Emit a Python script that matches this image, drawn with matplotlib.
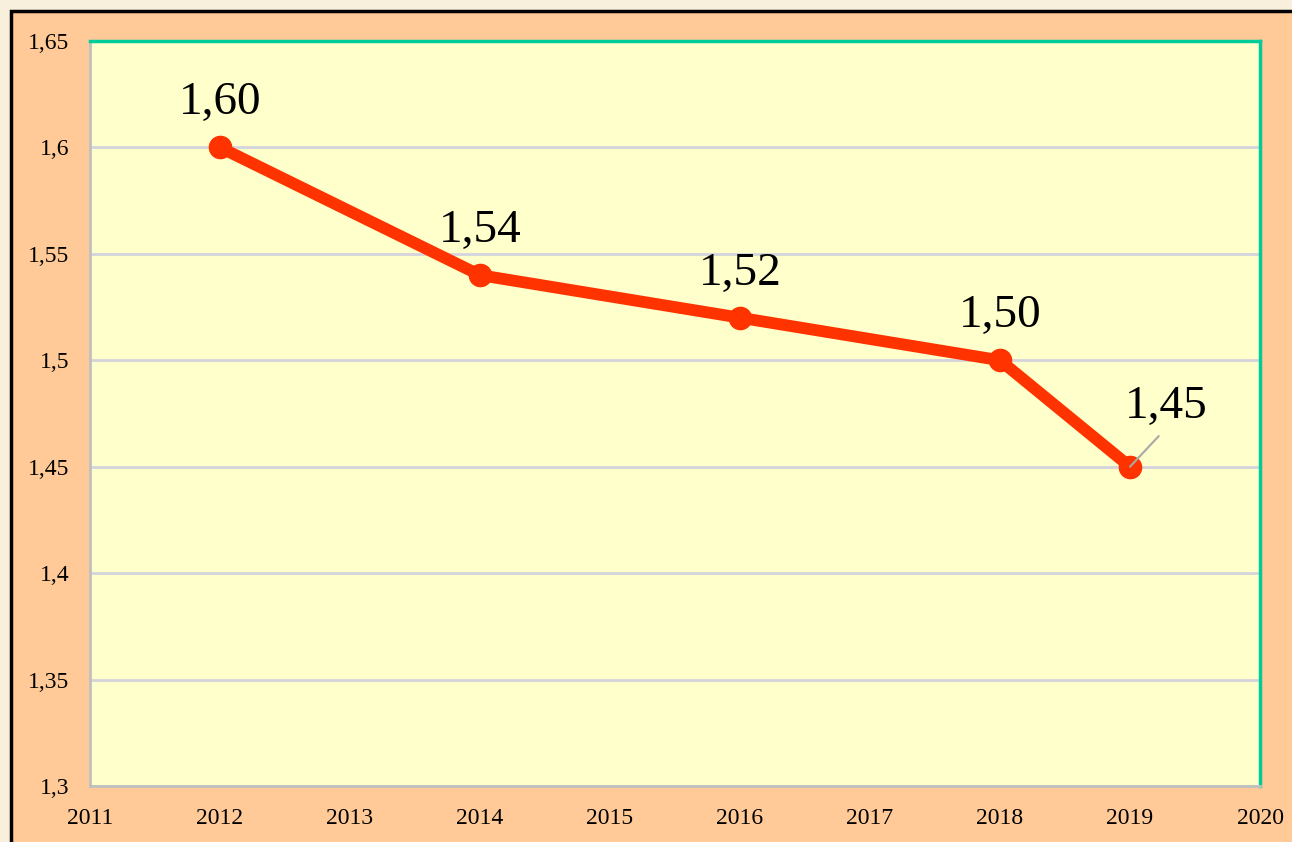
import matplotlib.pyplot as plt
from matplotlib.patches import Rectangle

#######################################################################
# Data
#######################################################################
years = [2012, 2014, 2016, 2018, 2019]
values = [1.60, 1.54, 1.52, 1.50, 1.45]
labels = ['1,60', '1,54', '1,52', '1,50', '1,45']
x_ticks = list(range(2011, 2021))
y_ticks = [1.3, 1.35, 1.4, 1.45, 1.5, 1.55, 1.6, 1.65]
y_tick_labels = ['1,3', '1,35', '1,4', '1,45', '1,5', '1,55', '1,6', '1,65']

# label offsets in points (dx, dy)
offsets = [(0, 32), (0, 32), (0, 32), (0, 32), (26, 43)]

#######################################################################
# Figure
#######################################################################
plt.rcParams['font.family'] = ['Liberation Serif', 'DejaVu Serif']

W, H = 1292, 842
fig = plt.figure(figsize=(W / 100, H / 100), dpi=100, facecolor='#F9EFDD')
fig.patches.append(Rectangle((11 / W, -0.1), 1.2, (H - 11) / H + 0.1,
                             transform=fig.transFigure, facecolor='#FFCA98',
                             edgecolor='black', linewidth=2.5, zorder=-10))

ax = fig.add_axes([90 / W, (H - 786) / H, (1260 - 90) / W, (786 - 41) / H])
ax.set_facecolor('#FFFFCC')

ax.plot(years, values, color='#FF3300', linewidth=8.5, marker='o',
        markersize=16, solid_capstyle='round', zorder=3, clip_on=False)

for x, y, t, (dx, dy) in zip(years, values, labels, offsets):
    if dx != 0:
        # label pulled away from the point, with a leader line
        ax.annotate(t, xy=(x, y), xytext=(dx, dy), textcoords='offset points',
                    ha='center', va='center', fontsize=34,
                    arrowprops=dict(arrowstyle='-', color='#A8A8A8', lw=1.5,
                                    relpos=(0.5, 0), shrinkA=5, shrinkB=0),
                    zorder=4)
    else:
        ax.annotate(t, xy=(x, y), xytext=(dx, dy), textcoords='offset points',
                    ha='center', va='center', fontsize=34, zorder=4)

ax.set_xlim(2011, 2020)
ax.set_ylim(1.3, 1.65)
ax.set_xticks(x_ticks)
ax.set_xticklabels([str(v) for v in x_ticks], fontsize=17)
ax.set_yticks(y_ticks)
ax.set_yticklabels(y_tick_labels, fontsize=17)
ax.tick_params(length=0, pad=16)
ax.tick_params(axis='y', pad=15)

ax.grid(axis='y', color='#D4D4DC', linewidth=2)
ax.set_axisbelow(True)

for s in ['left', 'bottom']:
    ax.spines[s].set_color('#C0C0C0')
    ax.spines[s].set_linewidth(2)
for s in ['top', 'right']:
    ax.spines[s].set_color('#00CC99')
    ax.spines[s].set_linewidth(2.5)

fig.savefig('out.png', dpi=100, facecolor=fig.get_facecolor())
